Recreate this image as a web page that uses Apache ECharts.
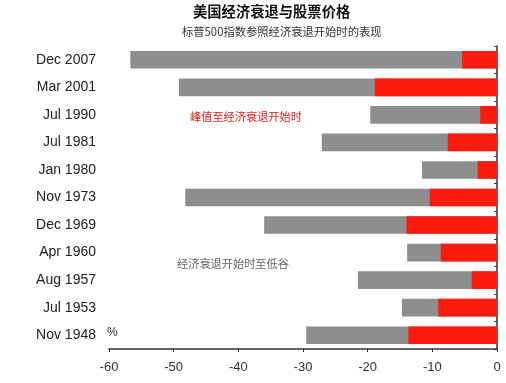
<!DOCTYPE html>
<html><head><meta charset="utf-8">
<script src="https://cdn.jsdelivr.net/npm/echarts@6/dist/echarts.min.js"></script>
<style>html,body{margin:0;padding:0;background:#fff}#c{width:506px;height:383px}</style>
</head><body><div id="c"></div>
<script>
// categories top-to-bottom
var categories = ['Dec 2007','Mar 2001','Jul 1990','Jul 1981','Jan 1980','Nov 1973','Dec 1969','Apr 1960','Aug 1957','Jul 1953','Nov 1948'];
// peak to trough (total decline, gray)
var totalDecline = [-56.7,-49.2,-19.6,-27.1,-11.6,-48.2,-36.0,-13.9,-21.5,-14.7,-29.5];
// peak to recession start (red)
var peakToStart = [-5.4,-18.9,-2.6,-7.6,-3.0,-10.4,-14.0,-8.7,-3.9,-9.1,-13.7];
var xTicks = [-60,-50,-40,-30,-20,-10,0];

var chart = echarts.init(document.getElementById('c'));
var font = 'Liberation Sans, Arial, sans-serif';
chart.setOption({
  animation:false,
  title:[
    {text:'美国经济衰退与股票价格', left:188, top:-1, textStyle:{fontSize:14.3, fontWeight:'bold', color:'#111', fontFamily:'Noto Sans CJK SC'}},
    {text:'标普500指数参照经济衰退开始时的表现', left:177, top:21, textStyle:{fontSize:11.3, fontWeight:'normal', color:'#333', fontFamily:'Noto Sans CJK SC'}}
  ],
  grid:{left:109, right:9, top:46, bottom:34},
  xAxis:{type:'value', min:-60, max:0, interval:10,
    axisLine:{show:true, lineStyle:{color:'#333', width:1.5}},
    axisTick:{show:true, length:3, lineStyle:{color:'#333'}},
    splitLine:{show:false},
    axisLabel:{color:'#333', fontSize:13, fontFamily:font, margin:12,
      formatter:function(v){return xTicks.indexOf(v)>=0 ? String(v) : '';}}
  },
  yAxis:[
    {type:'category', data:categories, inverse:true, position:'right',
      axisLine:{show:true, lineStyle:{color:'#333', width:1.5}},
      axisTick:{show:true, inside:true, length:3, lineStyle:{color:'#333'}},
      axisLabel:{show:false}},
    {type:'category', data:categories, inverse:true, position:'left', offset:0,
      axisLine:{show:false}, axisTick:{show:false},
      axisLabel:{show:true, color:'#222', fontSize:14, fontFamily:font, margin:13}}
  ],
  series:[
    {type:'bar', data:totalDecline, barWidth:'64%', barGap:'-100%', itemStyle:{color:'#8e8e8e'}, z:2},
    {type:'bar', data:peakToStart, barWidth:'64%', barGap:'-100%', itemStyle:{color:'#fd1a0e'}, z:3}
  ],
  graphic:[
    {type:'text', left:107, top:327, style:{text:'%', fontSize:12, fill:'#333', fontFamily:font}},
    {type:'text', left:190, top:111, style:{text:'峰值至经济衰退开始时', fontSize:11.2, fill:'#e0201a', fontFamily:'Noto Sans CJK SC'}},
    {type:'text', left:177, top:258, style:{text:'经济衰退开始时至低谷', fontSize:11.2, fill:'#666', fontFamily:'Noto Sans CJK SC'}}
  ]
});
</script></body></html>
